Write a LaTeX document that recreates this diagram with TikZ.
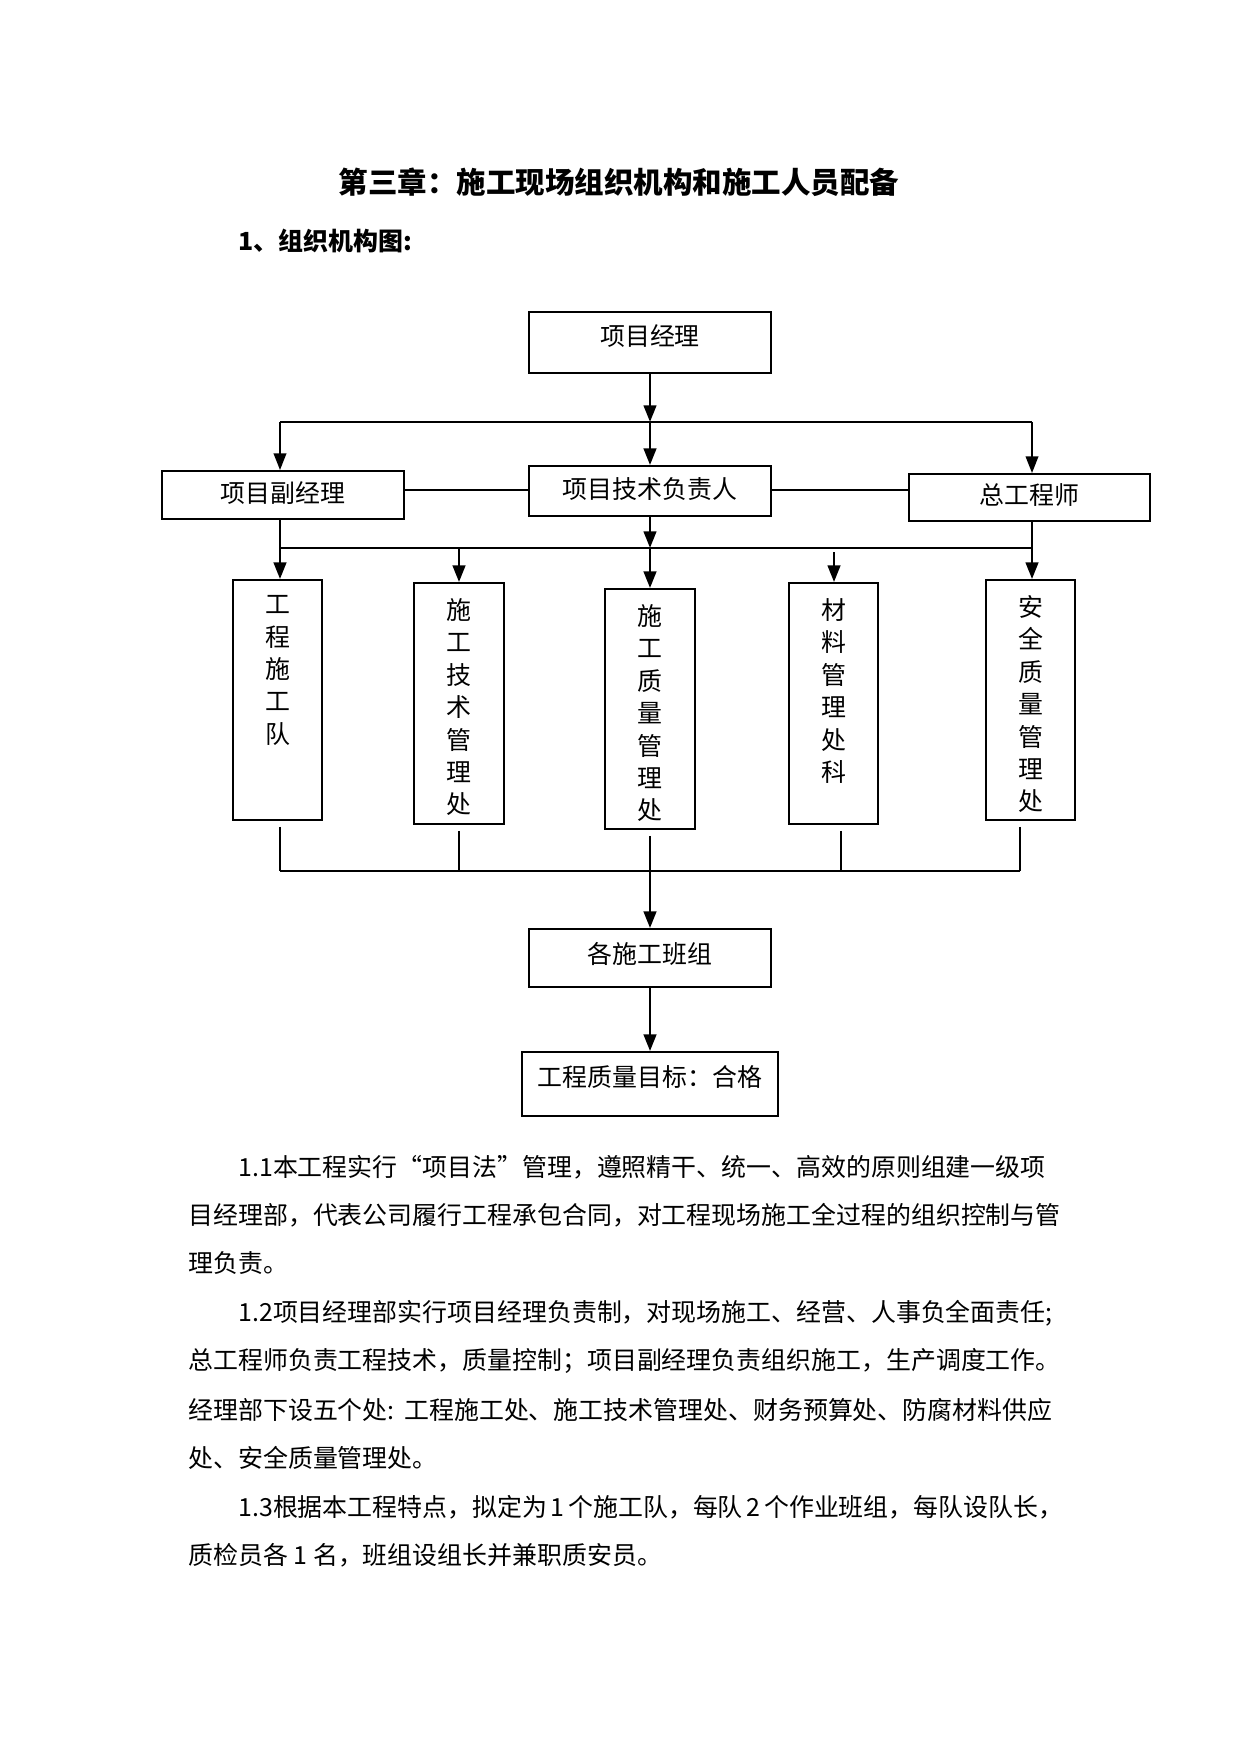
\documentclass[tikz,border=0pt]{standalone}
\usepackage{fontspec}
\setmainfont{Noto Sans CJK SC}
\usetikzlibrary{arrows.meta}
\XeTeXlinebreaklocale "zh"
\XeTeXlinebreakskip=0pt plus 3pt minus 0.6pt
\newcommand\pxu{0.16922mm}
\begin{document}
\begin{tikzpicture}[x=0.16922mm,y=-0.16922mm,
  box/.style={draw, line width=0.9pt, inner sep=0pt, text height=9pt, text depth=2pt, font=\fontsize{12}{14}\selectfont},
  vtext/.style={inner sep=0pt, align=center, anchor=north, font=\fontsize{12}{15.6}\selectfont},
  lk/.style={line width=1.3pt},
  ln/.style={line width=0.6pt},
  arr/.style={lk, -{Triangle[length=8pt,width=6pt]}},
  para/.style={inner sep=0pt, anchor=west, font=\fontsize{12}{14}\selectfont}]
\useasboundingbox (0,0) rectangle (1241,1754);
% headings
\node[inner sep=0pt, font=\fontsize{14.2}{17}\selectfont\bfseries] (title) at (619,182) {第三章：施工现场组织机构和施工人员配备};
\node[inner sep=0pt, anchor=west, font=\fontsize{12}{14}\selectfont\bfseries] (sub) at (238,241) {1、组织机构图:};
% boxes
\node[box, text depth=6pt, minimum width=242*\pxu, minimum height=61*\pxu] (pm) at (650,342.5) {项目经理};
\node[box, minimum width=242*\pxu, minimum height=48*\pxu] (fu) at (283,495) {项目副经理};
\node[box, minimum width=242*\pxu, minimum height=50*\pxu] (js) at (650,491) {项目技术负责人};
\node[box, minimum width=241*\pxu, minimum height=47*\pxu] (zg) at (1029.5,497.5) {总工程师};
\node[box, minimum width=89*\pxu, minimum height=240*\pxu] (b1) at (277.5,700) {};
\node[box, minimum width=90*\pxu, minimum height=241*\pxu] (b2) at (459,703.5) {};
\node[box, minimum width=90*\pxu, minimum height=240*\pxu] (b3) at (650,709) {};
\node[box, minimum width=89*\pxu, minimum height=241*\pxu] (b4) at (833.5,703.5) {};
\node[box, minimum width=89*\pxu, minimum height=240*\pxu] (b5) at (1030.5,700) {};
\node[vtext] (v1) at ([yshift=-16*\pxu]b1.north) {工\\程\\施\\工\\队};
\node[vtext] (v2) at ([yshift=-16*\pxu]b2.north) {施\\工\\技\\术\\管\\理\\处};
\node[vtext] (v3) at ([yshift=-16*\pxu]b3.north) {施\\工\\质\\量\\管\\理\\处};
\node[vtext] (v4) at ([yshift=-16*\pxu]b4.north) {材\\料\\管\\理\\处\\科};
\node[vtext] (v5) at ([yshift=-16*\pxu]b5.north) {安\\全\\质\\量\\管\\理\\处};
\node[box, text depth=4pt, minimum width=242*\pxu, minimum height=58*\pxu] (bz) at (650,958) {各施工班组};
\node[box, text depth=7pt, minimum width=256*\pxu, minimum height=64*\pxu] (mb) at (650,1084) {工程质量目标：合格};
% bus coordinates
\coordinate (t1) at (280,422);
\coordinate (t2) at (650,422);
\coordinate (t3) at (1032,422);
\coordinate (m1) at (280,548);
\coordinate (m2) at (459,548);
\coordinate (m3) at (650,548);
\coordinate (m4) at (834,548);
\coordinate (m5) at (1032,548);
\coordinate (d1) at (280,871);
\coordinate (d2) at (459,871);
\coordinate (d3) at (650,871);
\coordinate (d4) at (841,871);
\coordinate (d5) at (1020,871);
% top level
\draw[arr] (pm.south) -- (t2);
\draw[ln] (t1) -- (t3);
\draw[arr] (t2) -- (js.north);
\draw[arr, line width=1pt] (t1) -- (t1 |- fu.north);
\draw[arr, line width=1pt] (t3) -- (t3 |- zg.north);
\draw[lk] (fu.east |- 0,490) -- (js.west |- 0,490);
\draw[lk] (js.east |- 0,490) -- (zg.west |- 0,490);
% second level
\draw[ln] (m1 |- fu.south) -- (m1);
\draw[ln] (m5 |- zg.south) -- (m5);
\draw[arr] (js.south) -- (m3);
\draw[lk] (m1) -- (m5);
\draw[arr] (m1) -- (m1 |- b1.north);
\draw[arr] (m2) -- (m2 |- b2.north);
\draw[arr] (m3) -- (b3.north);
\draw[arr] ([yshift=-4*\pxu]m4) -- (m4 |- b4.north);
\draw[arr] (m5) -- (m5 |- b5.north);
% bottom
\draw[ln] ([yshift=-6*\pxu]d1 |- b1.south) -- (d1);
\draw[ln] ([yshift=-6*\pxu]d2 |- b2.south) -- (d2);
\draw[ln] ([yshift=-6*\pxu]d3 |- b3.south) -- (d3);
\draw[ln] ([yshift=-6*\pxu]d4 |- b4.south) -- (d4);
\draw[ln] ([yshift=-6*\pxu]d5 |- b5.south) -- (d5);
\draw[lk] (d1) -- (d5);
\draw[arr] (d3) -- (bz.north);
\draw[arr] (bz.south) -- (mb.north);
% paragraphs
\node[para] (p1) at (238,1167) {\makebox[138.8mm][s]{1.1本工程实行“项目法”管理，遵照精干、统一、高效的原则组建一级项}};
\node[para] (p2) at (188,1215) {\makebox[146.2mm][s]{目经理部，代表公司履行工程承包合同，对工程现场施工全过程的组织控制与管}};
\node[para] (p3) at (188,1263) {理负责。};
\node[para] (p4) at (238,1313) {\makebox[137.5mm][s]{1.2项目经理部实行项目经理负责制，对现场施工、经营、人事负全面责任;}};
\node[para] (p5) at (188,1361) {\makebox[146.2mm][s]{总工程师负责工程技术，质量控制；项目副经理负责组织施工，生产调度工作。}};
\node[para] (p6) at (188,1410) {\makebox[146.2mm][s]{经理部下设五个处: 工程施工处、施工技术管理处、财务预算处、防腐材料供应}};
\node[para] (p7) at (188,1458) {处、安全质量管理处。};
\node[para] (p8) at (238,1507) {\makebox[137.7mm][s]{1.3根据本工程特点，拟定为 1 个施工队，每队 2 个作业班组，每队设队长，}};
\node[para] (p9) at (188,1555) {质检员各 1 名，班组设组长并兼职质安员。};
\end{tikzpicture}
\end{document}
